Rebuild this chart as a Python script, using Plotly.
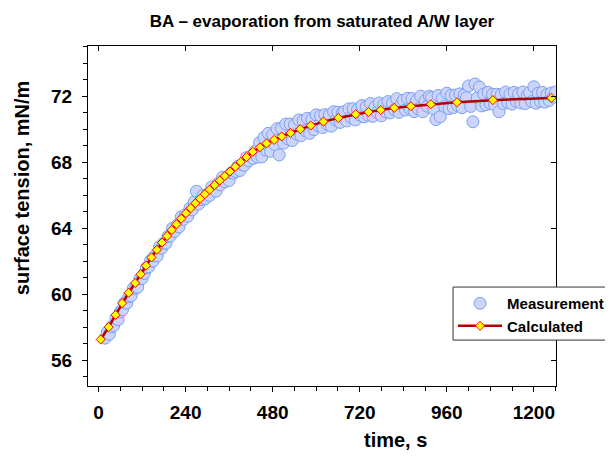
import plotly.graph_objects as go

# ---------------- data ----------------
meas_time = [
    18, 24, 30, 36, 42, 48, 54, 60, 66, 72,
    78, 84, 90, 96, 102, 108, 114, 120, 126, 132,
    138, 144, 150, 156, 162, 168, 174, 180, 186, 192,
    198, 204, 210, 216, 222, 228, 234, 240, 246, 252,
    258, 264, 270, 276, 282, 288, 294, 300, 306, 312,
    318, 324, 330, 336, 342, 348, 354, 360, 366, 372,
    378, 384, 390, 396, 402, 408, 414, 420, 426, 432,
    438, 444, 450, 456, 462, 468, 474, 480, 486, 492,
    498, 504, 510, 516, 522, 528, 534, 540, 546, 552,
    558, 564, 570, 576, 582, 588, 594, 600, 606, 612,
    618, 624, 630, 636, 642, 648, 654, 660, 666, 672,
    678, 684, 690, 696, 702, 708, 714, 720, 726, 732,
    738, 744, 750, 756, 762, 768, 774, 780, 786, 792,
    798, 804, 810, 816, 822, 828, 834, 840, 846, 852,
    858, 864, 870, 876, 882, 888, 894, 900, 906, 912,
    918, 924, 930, 936, 942, 948, 954, 960, 966, 972,
    978, 984, 990, 996, 1002, 1008, 1014, 1020, 1026, 1032,
    1038, 1044, 1050, 1056, 1062, 1068, 1074, 1080, 1086, 1092,
    1098, 1104, 1110, 1116, 1122, 1128, 1134, 1140, 1146, 1152,
    1158, 1164, 1170, 1176, 1182, 1188, 1194, 1200, 1206, 1212,
    1218, 1224, 1230, 1236, 1242, 1248, 1254, 1260,
]
meas_tension = [
    57.33, 57.68, 57.57, 58.01, 58.10, 58.53, 58.45, 58.93, 59.05, 59.48,
    59.45, 59.85, 59.90, 60.35, 60.35, 60.42, 60.93, 60.94, 61.25, 61.60,
    61.65, 62.05, 61.99, 62.33, 62.31, 62.85, 62.78, 63.10, 63.08, 63.50,
    63.52, 63.99, 63.80, 64.16, 64.07, 64.67, 64.52, 64.82, 64.72, 65.21,
    65.10, 65.59, 66.23, 65.45, 65.73, 65.96, 65.78, 66.05, 65.97, 66.49,
    66.36, 66.23, 66.70, 66.62, 67.08, 66.80, 67.07, 66.88, 67.35, 67.32,
    67.43, 67.74, 67.49, 67.85, 67.80, 68.27, 68.08, 68.35, 68.22, 68.66,
    68.30, 69.18, 68.31, 69.49, 68.72, 69.74, 68.65, 69.66, 69.06, 70.02,
    68.43, 70.04, 69.14, 70.30, 69.40, 70.30, 69.30, 70.25, 69.70, 70.55,
    69.60, 70.50, 69.90, 70.65, 69.74, 70.58, 69.97, 70.86, 70.20, 70.80,
    70.09, 70.87, 70.30, 70.84, 70.17, 71.05, 70.54, 71.02, 70.40, 70.98,
    71.06, 70.49, 71.22, 70.70, 71.23, 70.55, 71.17, 70.85, 71.42, 70.74,
    71.36, 70.83, 71.55, 70.77, 71.34, 71.01, 71.58, 70.80, 71.47, 71.04,
    71.66, 70.98, 71.56, 71.18, 71.84, 71.01, 71.52, 71.74, 71.15, 71.86,
    71.22, 71.84, 71.05, 71.71, 71.22, 71.99, 71.05, 71.72, 71.38, 71.99,
    71.90, 71.21, 70.57, 72.03, 70.74, 71.85, 71.36, 72.17, 71.23, 72.04,
    71.30, 72.06, 71.42, 72.13, 71.29, 72.05, 71.90, 72.61, 71.37, 70.44,
    72.73, 71.89, 72.54, 71.40, 72.11, 71.47, 72.22, 71.54, 72.10, 71.46,
    72.11, 71.05, 72.08, 71.54, 72.24, 71.60, 72.11, 71.51, 72.22, 71.67,
    72.13, 71.58, 72.24, 71.54, 72.05, 72.20, 71.66, 72.56, 71.56, 72.17,
    71.67, 72.22, 71.63, 72.08, 71.73, 72.18, 71.94, 72.24,
]

calc_time = [6, 28, 47, 65, 83, 101, 116, 131, 146, 161, 175, 189, 202, 215, 228,
             241, 254, 267, 280, 293, 306, 320, 334, 348, 362, 377, 392, 408, 425,
             445, 463, 484, 505, 529, 556, 585, 620, 661, 709, 744, 778, 815, 861,
             916, 988, 1087, 1248]
calc_tension = [57.25, 58.00, 58.74, 59.45, 60.08, 60.67, 61.20, 61.72, 62.22, 62.68,
                63.12, 63.52, 63.88, 64.23, 64.57, 64.90, 65.20, 65.50, 65.78, 66.05,
                66.32, 66.60, 66.88, 67.15, 67.42, 67.72, 68.00, 68.30, 68.62, 68.89,
                69.13, 69.34, 69.55, 69.76, 69.99, 70.21, 70.45, 70.67, 70.90, 71.03,
                71.15, 71.28, 71.38, 71.50, 71.62, 71.75, 71.88]

x_ticks = [0, 240, 480, 720, 960, 1200]
y_ticks = [56, 60, 64, 68, 72]

title_text = "BA \u2013 evaporation from saturated A/W layer"
x_title = "time, s"
y_title = "surface tension, mN/m"
series_names = ["Measurement", "Calculated"]

# ---------------- figure ----------------
# (the page body adds an 8 px margin, so the figure is 8 px smaller)
FONT = "Arial, Liberation Sans, sans-serif"
x_range = [-29, 1261]
y_range = [54.43, 75.03]

fig = go.Figure()
fig.add_trace(go.Scatter(
    x=meas_time, y=meas_tension, mode="markers", name=series_names[0],
    marker=dict(symbol="circle", size=12, color="rgb(204,212,250)",
                line=dict(color="rgb(122,160,240)", width=1)),
))
fig.add_trace(go.Scatter(
    x=calc_time, y=calc_tension, mode="lines+markers", name=series_names[1],
    line=dict(color="#b40000", width=2.5),
    marker=dict(symbol="diamond", size=7, color="#ffff00",
                line=dict(color="#ff0000", width=1)),
))
# helper trace for the mirrored inner ticks (top / right)
fig.add_trace(go.Scatter(x=[None], y=[None], xaxis="x2", yaxis="y2",
                         showlegend=False, hoverinfo="skip"))

fig.update_layout(
    width=605, height=449,
    margin=dict(l=80, r=57, t=38, b=71, autoexpand=False),
    paper_bgcolor="white", plot_bgcolor="white",
    font=dict(family=FONT, color="black"),
    title=dict(text="<b>" + title_text + "</b>", x=0.519, xanchor="center",
               y=0.97, yanchor="middle", yref="container",
               font=dict(size=17, family=FONT, color="black")),
    xaxis=dict(range=x_range, tickvals=x_ticks, ticks="outside", ticklen=5,
               tickcolor="black", showline=True, linecolor="black", linewidth=1,
               mirror=True, showgrid=False, zeroline=False,
               tickfont=dict(size=19, family=FONT, color="black", weight="bold"),
               ticklabelstandoff=4,
               minor=dict(dtick=60, tick0=0, ticks="outside", ticklen=4,
                          tickcolor="black", showgrid=False)),
    yaxis=dict(range=y_range, tickvals=y_ticks, ticks="outside", ticklen=5,
               tickcolor="black", showline=True, linecolor="black", linewidth=1,
               mirror=True, showgrid=False, zeroline=False,
               tickfont=dict(size=19, family=FONT, color="black", weight="bold"),
               ticklabelstandoff=6,
               minor=dict(dtick=1, tick0=0, ticks="outside", ticklen=4,
                          tickcolor="black", showgrid=False)),
    xaxis2=dict(range=x_range, overlaying="x", side="top", tickvals=x_ticks,
                ticks="inside", ticklen=5, tickcolor="black", showticklabels=False,
                showline=False, showgrid=False, zeroline=False),
    yaxis2=dict(range=y_range, overlaying="y", side="right", tickvals=y_ticks,
                ticks="inside", ticklen=5, tickcolor="black", showticklabels=False,
                showline=False, showgrid=False, zeroline=False),
    legend=dict(x=0.78, y=0.291, xanchor="left", yanchor="top",
                bgcolor="rgba(0,0,0,0)", borderwidth=0,
                font=dict(size=15, family=FONT, color="black", weight="bold"),
                tracegroupgap=0, itemwidth=44),
    showlegend=True,
)

# legend frame: runs past the right edge of the picture, as in the original
fig.add_shape(type="rect", xref="paper", yref="paper",
              x0=0.78, x1=1.16, y0=0.135, y1=0.291, layer="above",
              line=dict(color="#333333", width=1), fillcolor="white")

fig.add_annotation(text="<b>" + y_title + "</b>", textangle=-90,
                   xref="paper", yref="paper", x=-0.141, y=0.582,
                   xanchor="center", yanchor="middle", showarrow=False,
                   font=dict(size=20, family=FONT, color="black"))
fig.add_annotation(text="<b>" + x_title + "</b>",
                   xref="paper", yref="paper", x=0.656, y=-0.159,
                   xanchor="center", yanchor="middle", showarrow=False,
                   font=dict(size=20, family=FONT, color="black"))

fig.write_html("out.html")
